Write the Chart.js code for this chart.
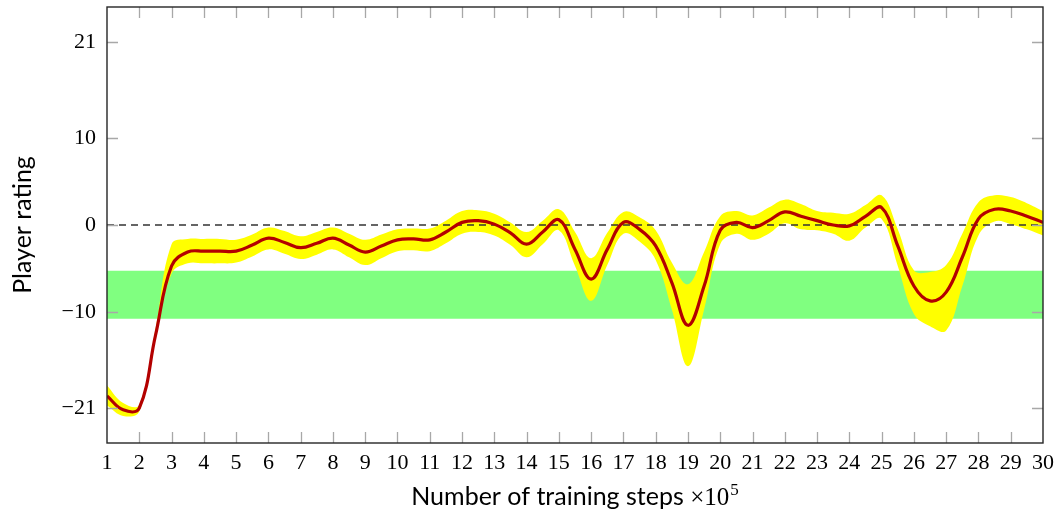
<!DOCTYPE html>
<html><head><meta charset="utf-8">
<script src="https://cdn.jsdelivr.net/npm/chart.js@4/dist/chart.umd.min.js"></script>
<style>html,body{margin:0;padding:0;background:#fff}</style>
</head><body>
<canvas id="c" width="1059" height="517"></canvas>
<script>
const steps = [1,1.5,2,2.5,3,3.5,4,4.5,5,5.5,6,6.5,7,7.5,8,8.5,9,9.5,10,10.5,11,11.5,12,12.5,13,13.5,14,14.5,15,15.5,16,16.5,17,17.5,18,18.5,19,19.5,20,20.5,21,21.5,22,22.5,23,23.5,24,24.5,25,25.5,26,26.5,27,27.5,28,28.5,29,29.5,30];
const meanRating = [-19.6,-21.2,-21.0,-12.7,-4.7,-3.1,-3.0,-3.0,-3.0,-2.3,-1.5,-2.0,-2.6,-2.1,-1.5,-2.3,-3.1,-2.4,-1.7,-1.6,-1.7,-0.8,0.3,0.5,0.1,-0.9,-2.2,-0.8,0.6,-2.8,-6.2,-2.8,0.3,-0.5,-2.4,-6.6,-11.5,-7.0,-0.6,0.3,-0.3,0.5,1.5,1.0,0.5,0.0,-0.1,1.0,2.0,-2.4,-7.0,-8.7,-7.7,-3.7,0.7,1.8,1.6,1.0,0.3];
const upperRating = [-18.4,-20.4,-20.6,-12.0,-2.2,-1.6,-1.6,-1.6,-1.7,-1.1,-0.3,-0.7,-1.3,-0.8,-0.3,-1.0,-1.7,-1.1,-0.5,-0.4,-0.4,0.5,1.6,1.7,1.3,0.3,-0.8,0.5,1.8,-0.8,-3.8,-0.9,1.5,0.9,-0.6,-4.3,-6.8,-3.1,1.0,1.6,1.1,2.0,2.9,2.4,1.6,1.4,1.3,2.3,3.4,-0.5,-5.2,-5.4,-4.6,-1.0,2.6,3.4,3.2,2.5,1.6];
const lowerRating = [-20.7,-21.9,-21.4,-13.2,-5.6,-4.4,-4.4,-4.4,-4.3,-3.6,-2.8,-3.3,-3.9,-3.4,-2.8,-3.7,-4.6,-3.8,-3.0,-2.9,-3.0,-2.1,-1.0,-0.8,-1.2,-2.3,-3.7,-2.2,-0.6,-4.7,-8.7,-4.6,-1.0,-1.9,-4.0,-9.7,-16.2,-9.7,-2.2,-1.0,-1.7,-1.0,0.2,-0.5,-0.6,-1.0,-1.8,-0.3,0.7,-4.7,-10.2,-11.6,-12.1,-7.0,-1.2,0.4,0.1,-0.5,-1.2];
const yTickValues = [-21, -10, 0, 10, 21];
const targetBandTop = -5.25;
const targetBandBottom = -10.75;
const referenceLevel = 0;
const xTitleMain = 'Number of training steps ';
const xTitleTimes = '\u00d710';
const xTitleExp = '5';
const yTitle = 'Player rating';

const xMin = steps[0], xMax = steps[steps.length - 1];
const toPts = arr => arr.map((v, i) => ({x: steps[i], y: v}));
const flat = v => [{x: xMin, y: v}, {x: xMax, y: v}];

const SANS = '25px Lato';
const SERIF = '25px "Liberation Serif"';
const SERIF_SMALL = '17px "Liberation Serif"';

const frameTicks = {
  id: 'frameTicks',
  afterDatasetsDraw(chart) {
    const {ctx, chartArea: a, scales} = chart;
    const L = 11;
    ctx.save();
    ctx.strokeStyle = '#a8a8a8';
    ctx.lineWidth = 1.3;
    ctx.beginPath();
    scales.x.ticks.forEach(t => {
      if (t.value === xMin || t.value === xMax) return;
      const px = Math.round(scales.x.getPixelForValue(t.value)) + 0.5;
      ctx.moveTo(px, a.bottom); ctx.lineTo(px, a.bottom - L);
      ctx.moveTo(px, a.top); ctx.lineTo(px, a.top + L);
    });
    scales.y.ticks.forEach(t => {
      const py = Math.round(scales.y.getPixelForValue(t.value)) + 0.5;
      ctx.moveTo(a.left, py); ctx.lineTo(a.left + L, py);
      ctx.moveTo(a.right, py); ctx.lineTo(a.right - L, py);
    });
    ctx.stroke();
    ctx.strokeStyle = '#262626';
    ctx.lineWidth = 1.4;
    ctx.strokeRect(a.left, a.top, a.right - a.left, a.bottom - a.top);
    ctx.restore();
  },
  afterDraw(chart) {
    const {ctx, chartArea: a} = chart;
    ctx.save();
    ctx.fillStyle = '#000';
    ctx.textBaseline = 'alphabetic';
    ctx.textAlign = 'left';
    ctx.font = SANS; const w1 = ctx.measureText(xTitleMain).width;
    ctx.font = SERIF; const w2 = ctx.measureText(xTitleTimes).width;
    ctx.font = SERIF_SMALL; const w3 = ctx.measureText(xTitleExp).width;
    const total = w1 + w2 + w3 + 1;
    let x = (a.left + a.right) / 2 - total / 2;
    const base = 505;
    ctx.font = SANS; ctx.fillText(xTitleMain, x, base); x += w1;
    ctx.font = SERIF; ctx.fillText(xTitleTimes, x, base); x += w2 + 1;
    ctx.font = SERIF_SMALL; ctx.fillText(xTitleExp, x, base - 10);
    ctx.translate(31, (a.top + a.bottom) / 2);
    ctx.rotate(-Math.PI / 2);
    ctx.font = SANS; ctx.textAlign = 'center';
    ctx.fillText(yTitle, 0, 0);
    ctx.restore();
  }
};

new Chart(document.getElementById('c'), {
  type: 'line',
  data: {
    datasets: [
      {data: toPts(meanRating), borderColor: '#b30000', borderWidth: 3.2, fill: false, order: 0},
      {data: flat(referenceLevel), borderColor: '#333333', borderWidth: 1.3, borderDash: [7, 5], fill: false, order: 1, tension: 0},
      {data: toPts(upperRating), borderWidth: 0, borderColor: 'rgba(0,0,0,0)', backgroundColor: '#ffff00', fill: '+1', order: 2},
      {data: toPts(lowerRating), borderWidth: 0, borderColor: 'rgba(0,0,0,0)', fill: false, order: 3},
      {data: flat(targetBandTop), borderWidth: 0, borderColor: 'rgba(0,0,0,0)', backgroundColor: '#80ff80', fill: '+1', order: 4, tension: 0},
      {data: flat(targetBandBottom), borderWidth: 0, borderColor: 'rgba(0,0,0,0)', fill: false, order: 5, tension: 0}
    ]
  },
  options: {
    responsive: false,
    animation: false,
    devicePixelRatio: 1,
    parsing: false,
    elements: {point: {radius: 0}, line: {tension: 0.4}},
    layout: {padding: {top: 7, right: 16, left: 0, bottom: 0}},
    plugins: {legend: {display: false}, tooltip: {enabled: false}},
    scales: {
      x: {
        type: 'linear', min: xMin, max: xMax,
        grid: {display: false, drawTicks: false}, border: {display: false},
        ticks: {stepSize: 1, autoSkip: false, maxRotation: 0, padding: 7, color: '#000',
          font: {family: 'Liberation Serif', size: 22}},
        afterFit(s) { s.height = 74; s.paddingLeft = 0; s.paddingRight = 0; }
      },
      y: {
        type: 'linear', min: -25, max: 25,
        grid: {display: false, drawTicks: false}, border: {display: false},
        afterBuildTicks(s) { s.ticks = yTickValues.map(v => ({value: v})); },
        ticks: {padding: 11, color: '#000', font: {family: 'Liberation Serif', size: 22},
          callback: v => (v < 0 ? '\u2212' + Math.abs(v) : String(v))},
        afterFit(s) { s.width = 107; s.paddingTop = 0; s.paddingBottom = 0; }
      }
    }
  },
  plugins: [frameTicks]
});
</script>
</body></html>
